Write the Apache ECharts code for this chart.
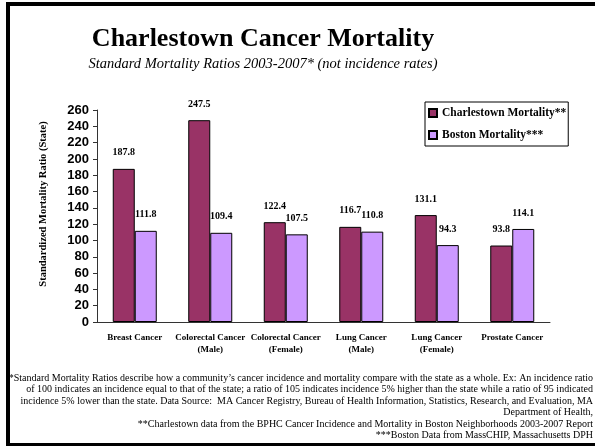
<!DOCTYPE html>
<html>
<head>
<meta charset="utf-8">
<script src="https://cdn.jsdelivr.net/npm/echarts@6/dist/echarts.min.js"></script>
<style>
  html, body { margin: 0; padding: 0; background: #fff; }
  #chart { width: 595px; height: 446px; }
</style>
</head>
<body>
<div id="chart"></div>
<script>
const categories = ['Breast Cancer', 'Colorectal Cancer\n(Male)', 'Colorectal Cancer\n(Female)',
    'Lung Cancer\n(Male)', 'Lung Cancer\n(Female)', 'Prostate Cancer'];
const charlestown = [187.8, 247.5, 122.4, 116.7, 131.1, 93.8];
const boston = [111.8, 109.4, 107.5, 110.8, 94.3, 114.1];
const seriesNames = ['Charlestown Mortality**', 'Boston Mortality***'];
const yTitle = 'Standardized Mortality Ratio (State)';
const footnotes = [
    '*Standard Mortality Ratios describe how a community\u2019s cancer incidence and mortality compare with the state as a whole. Ex: An incidence ratio',
    'of 100 indicates an incidence equal to that of the state; a ratio of 105 indicates incidence 5% higher than the state while a ratio of 95 indicated',
    'incidence 5% lower than the state. Data Source:  MA Cancer Registry, Bureau of Health Information, Statistics, Research, and Evaluation, MA',
    'Department of Health,',
    '**Charlestown data from the BPHC Cancer Incidence and Mortality in Boston Neighborhoods 2003-2007 Report',
    '***Boston Data from MassCHIP, Massachusetts DPH'
];

const serif = '"Liberation Serif", "Times New Roman", serif';
const sans = '"Liberation Sans", Arial, sans-serif';

let chart = echarts.init(document.getElementById('chart'));

// frame lines, y axis title, footnote block
let graphics = [
    { type: 'rect', shape: { x: 6, y: 2, width: 589, height: 4 }, style: { fill: '#000' } },
    { type: 'rect', shape: { x: 6, y: 2, width: 4, height: 444 }, style: { fill: '#000' } },
    { type: 'rect', shape: { x: 6, y: 443, width: 589, height: 3 }, style: { fill: '#000' } },
    {
        type: 'text',
        x: 43,
        y: 204,
        rotation: Math.PI / 2,
        style: {
            text: yTitle,
            font: 'bold 10.5px ' + serif,
            fill: '#000',
            textAlign: 'center',
            textVerticalAlign: 'middle'
        }
    }
];
footnotes.forEach(function (line, i) {
    graphics.push({
        type: 'text',
        right: 2,
        top: 373 + i * 11.5,
        style: { text: line, font: '10px ' + serif, fill: '#000', textAlign: 'right' }
    });
});

let labelStyle = {
    show: true,
    position: 'top',
    distance: 11,
    fontFamily: serif,
    fontWeight: 'bold',
    fontSize: 10,
    color: '#000'
};

chart.setOption({
    backgroundColor: '#fff',
    animation: false,
    title: {
        text: 'Charlestown Cancer Mortality',
        subtext: 'Standard Mortality Ratios 2003-2007* (not incidence rates)',
        left: 258,
        textAlign: 'center',
        top: 21,
        itemGap: 5,
        textStyle: { fontFamily: serif, fontWeight: 'bold', fontSize: 26, color: '#000' },
        subtextStyle: { fontFamily: serif, fontStyle: 'italic', fontSize: 14.5, color: '#000' }
    },
    legend: {
        orient: 'vertical',
        left: 425,
        top: 102,
        padding: [5, 2, 5, 3],
        itemGap: 10,
        itemWidth: 8,
        itemHeight: 8,
        borderColor: '#000',
        borderWidth: 1,
        icon: 'rect',
        textStyle: { fontFamily: serif, fontWeight: 'bold', fontSize: 11.5, color: '#000' },
        data: seriesNames
    },
    grid: { left: 97, right: 45, top: 110, bottom: 124 },
    xAxis: {
        type: 'category',
        data: categories,
        axisLine: { lineStyle: { color: '#333', width: 1 } },
        axisTick: { length: 4, lineStyle: { color: '#333' } },
        axisLabel: {
            interval: 0,
            margin: 10,
            lineHeight: 12,
            fontFamily: serif,
            fontWeight: 'bold',
            fontSize: 9,
            color: '#000'
        }
    },
    yAxis: {
        type: 'value',
        min: 0,
        max: 260,
        interval: 20,
        axisLine: { show: true, lineStyle: { color: '#333', width: 1 } },
        axisTick: { show: true, length: 4, lineStyle: { color: '#333' } },
        splitLine: { show: false },
        axisLabel: { margin: 8, fontFamily: sans, fontWeight: 'bold', fontSize: 13, color: '#000' }
    },
    series: [{
        name: seriesNames[0],
        type: 'bar',
        data: charlestown,
        barWidth: 22,
        barGap: '0%',
        itemStyle: { color: '#993366', borderColor: '#000', borderWidth: 1 },
        label: labelStyle
    }, {
        name: seriesNames[1],
        type: 'bar',
        data: boston,
        barWidth: 22,
        itemStyle: { color: '#cc99ff', borderColor: '#000', borderWidth: 1 },
        label: labelStyle
    }],
    graphic: graphics
});
</script>
</body>
</html>
